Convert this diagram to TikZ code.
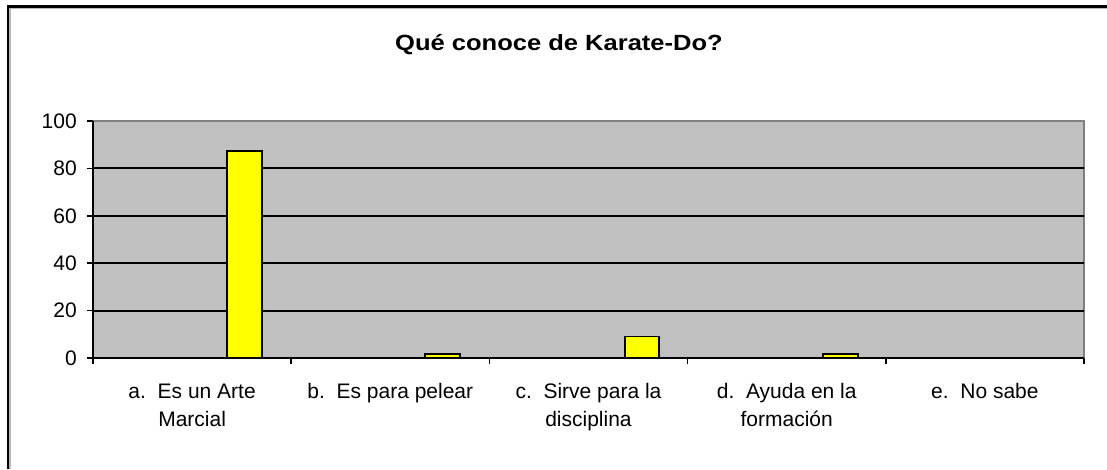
\documentclass[tikz,border=0pt]{standalone}
\usepackage{fontspec}
\setmainfont{Liberation Sans}
\definecolor{plotgray}{HTML}{C0C0C0}
\definecolor{plotedge}{HTML}{808080}
\definecolor{baryellow}{HTML}{FFFF00}
\begin{document}
\begin{tikzpicture}[x=0.75pt,y=-0.75pt,
  catlabel/.style={font=\fontsize{15.75pt}{21pt}\selectfont, inner sep=0pt, align=center, anchor=north},
  ylabel/.style={font=\fontsize{15.75pt}{18pt}\selectfont, inner sep=0pt, anchor=east},
  titlelabel/.style={font=\bfseries\fontsize{16.5pt}{20pt}\selectfont, inner sep=0pt, anchor=base},
  barbox/.style={draw=black, line width=1.4pt, fill=baryellow},
  gridline/.style={line width=1.4pt, black},
  axisline/.style={line width=1.4pt, black},
  tickline/.style={line width=1.2pt, black}
  ]
\useasboundingbox (0,0) rectangle (1107,469);
\fill[white] (0,0) rectangle (1107,469);
% chart frame
\draw[gray!55, line width=0.8pt] (10,469) -- (10,8.5) -- (1107,8.5);
\draw[black, line width=1.6pt] (8,469) -- (8,6.5) -- (1107,6.5);
% title
\node[titlelabel] (title) at (559,50) {\scalebox{1.16}[1]{Qué conoce de Karate-Do?}};
% plot area
\fill[plotgray] (93,121) rectangle (1084,358);
\draw[plotedge, line width=1pt] (93,121) -- (1084,121) -- (1084,358);
% gridlines
\foreach \v in {20,40,60,80} {
  \draw[gridline] (93,{358-2.37*\v}) -- (1084,{358-2.37*\v});
}
% bars
\draw[barbox] (227,358) rectangle (262,{358-2.37*87.3});
\draw[barbox] (425,358) rectangle (460,{358-2.37*1.6});
\draw[barbox] (625,358) rectangle (659,{358-2.37*9.1});
\draw[barbox] (823,358) rectangle (858,{358-2.37*1.6});
% axes
\coordinate (o) at (93,358);
\coordinate (ytop) at (93,121);
\coordinate (xend) at (1084,358);
\draw[axisline] (ytop) -- (o) -- (xend);
% y ticks and labels
\foreach \v/\n in {0/y0,20/y20,40/y40,60/y60,80/y80,100/y100} {
  \draw[tickline] (87,{358-2.37*\v}) -- (93,{358-2.37*\v});
  \node[ylabel] (\n) at (77,{358-2.37*\v}) {\v};
}
% x ticks
\foreach \x in {93,291.2,489.4,687.6,885.8,1084} {
  \draw[tickline] (\x,358) -- (\x,364);
}
% category labels
\node[catlabel] (ca) at (192.1,383.3) {a.\ \ Es un Arte\\Marcial};
\node[catlabel] (cb) at (390.3,383.3) {b.\ \ Es para pelear};
\node[catlabel] (cc) at (588.5,383.3) {c.\ \ Sirve para la\\disciplina};
\node[catlabel] (cd) at (786.7,383.3) {d.\ \ Ayuda en la\\formación};
\node[catlabel] (ce) at (984.9,383.3) {e.\ \ No sabe};
\end{tikzpicture}
\end{document}
